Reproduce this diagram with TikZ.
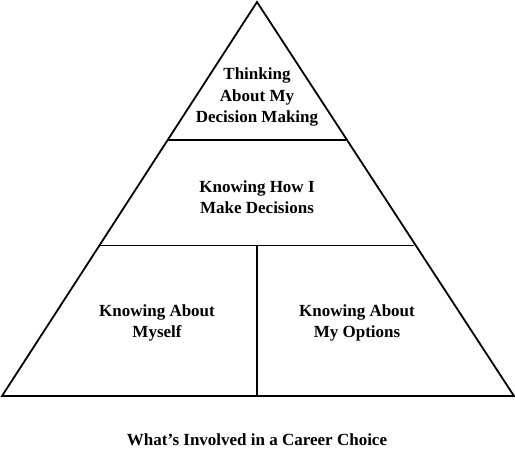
\documentclass[tikz,border=0pt]{standalone}
\usepackage{fontspec}
\setmainfont{Liberation Serif}
\begin{document}
\begin{tikzpicture}[x=1pt,y=-1pt,
  edge/.style={draw=black,line width=1.8pt,line join=miter},
  lbl/.style={align=center,font=\fontsize{17}{21.5}\selectfont\bfseries,inner sep=0pt}]
\useasboundingbox (0,0) rectangle (515,449);
\coordinate (apex) at (257,2);
\coordinate (bl) at (2,396);
\coordinate (br) at (514,396);
\coordinate (l1) at (167.7,140);
\coordinate (r1) at (346.3,140);
\coordinate (l2) at (99.7,245.5);
\coordinate (r2) at (414.3,245.5);
\coordinate (m2) at (257,245.5);
\coordinate (mb) at (257,396);
\draw[edge] (apex) -- (br) -- (bl) -- cycle;
\draw[edge] (l1) -- (r1);
\draw[edge] (l2) -- (r2);
\draw[edge] (m2) -- (mb);
\node[lbl] (top) at (257,97) {Thinking\\About My\\Decision Making};
\node[lbl] (mid) at (257,197) {Knowing How I\\Make Decisions};
\node[lbl] (self) at (157,323) {Knowing About\\Myself};
\node[lbl] (opts) at (357,323) {Knowing About\\My Options};
\node[lbl] (cap) at (257,440) {What’s Involved in a Career Choice};
\end{tikzpicture}
\end{document}
